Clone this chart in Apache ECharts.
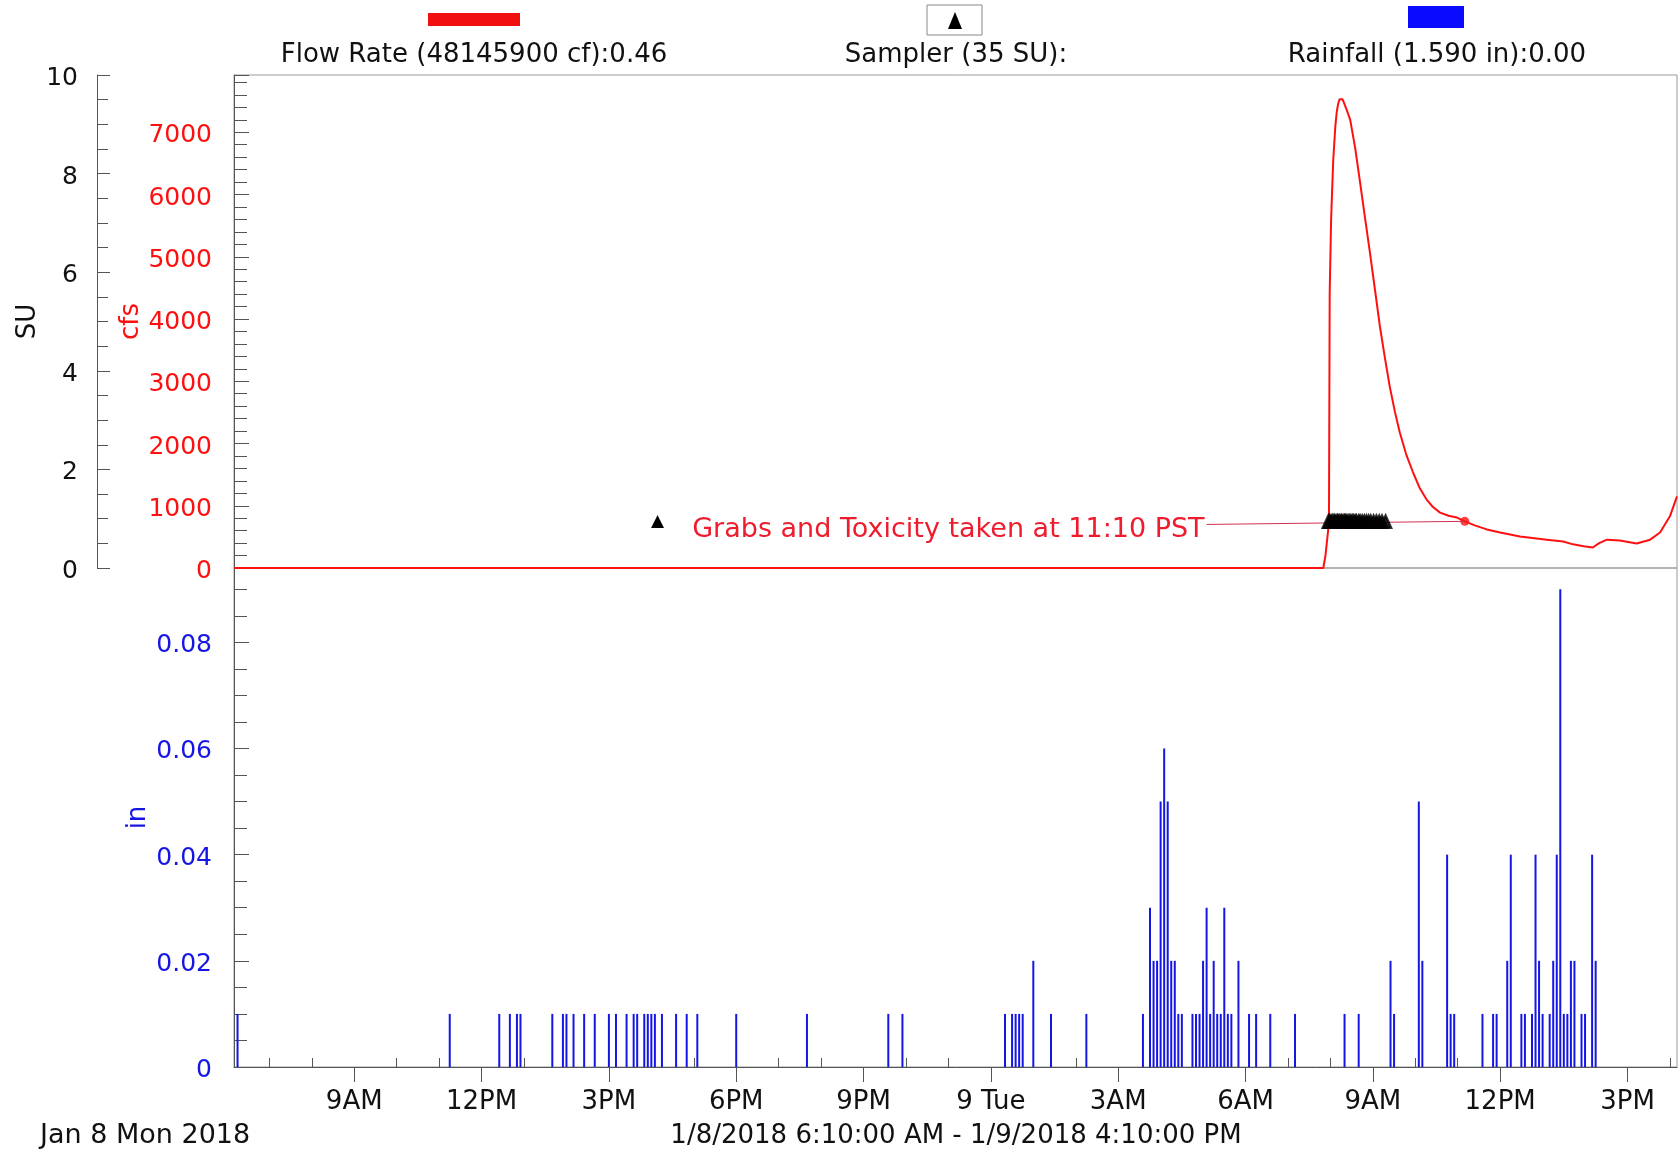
<!DOCTYPE html>
<html><head><meta charset="utf-8">
<script src="https://cdn.jsdelivr.net/npm/echarts@6/dist/echarts.min.js"></script>
<style>html,body{margin:0;padding:0;background:#fff}#c{width:1678px;height:1152px}</style>
</head><body><div id="c"></div>
<script>
// ---------- DATA ----------
const X_MIN = '2018-01-08 06:10';
const X_MAX = '2018-01-09 16:10';

const flowTimes = ['2018-01-08 06:10','2018-01-09 07:50','2018-01-09 07:53','2018-01-09 07:55','2018-01-09 07:58','2018-01-09 07:59','2018-01-09 08:01','2018-01-09 08:04','2018-01-09 08:07','2018-01-09 08:09','2018-01-09 08:11','2018-01-09 08:13','2018-01-09 08:15','2018-01-09 08:17','2018-01-09 08:19','2018-01-09 08:21','2018-01-09 08:24','2018-01-09 08:28','2018-01-09 08:35','2018-01-09 08:42','2018-01-09 08:49','2018-01-09 08:56','2018-01-09 09:03','2018-01-09 09:10','2018-01-09 09:17','2018-01-09 09:24','2018-01-09 09:31','2018-01-09 09:38','2018-01-09 09:47','2018-01-09 09:57','2018-01-09 10:06','2018-01-09 10:16','2018-01-09 10:25','2018-01-09 10:35','2018-01-09 10:47','2018-01-09 10:59','2018-01-09 11:10','2018-01-09 11:25','2018-01-09 11:41','2018-01-09 12:00','2018-01-09 12:28','2018-01-09 13:06','2018-01-09 13:29','2018-01-09 13:43','2018-01-09 13:58','2018-01-09 14:11','2018-01-09 14:20','2018-01-09 14:31','2018-01-09 14:49','2018-01-09 15:13','2018-01-09 15:32','2018-01-09 15:46','2018-01-09 16:00','2018-01-09 16:10'];
const flowCfs = [0,0,200,410,730,4400,5600,6550,7100,7330,7460,7530,7550,7530,7480,7420,7330,7200,6750,6190,5620,5060,4470,3880,3380,2910,2520,2180,1830,1530,1290,1100,980,890,840,810,750,680,620,570,505,455,425,380,350,330,400,455,440,395,455,570,830,1150];

const samplerTimes = ['2018-01-09 07:57','2018-01-09 07:59','2018-01-09 08:01','2018-01-09 08:03','2018-01-09 08:05','2018-01-09 08:06','2018-01-09 08:08','2018-01-09 08:10','2018-01-09 08:11','2018-01-09 08:13','2018-01-09 08:15','2018-01-09 08:16','2018-01-09 08:18','2018-01-09 08:20','2018-01-09 08:21','2018-01-09 08:23','2018-01-09 08:25','2018-01-09 08:27','2018-01-09 08:29','2018-01-09 08:31','2018-01-09 08:33','2018-01-09 08:35','2018-01-09 08:37','2018-01-09 08:40','2018-01-09 08:42','2018-01-09 08:45','2018-01-09 08:48','2018-01-09 08:51','2018-01-09 08:54','2018-01-09 08:57','2018-01-09 09:01','2018-01-09 09:05','2018-01-09 09:09','2018-01-09 09:13','2018-01-09 09:18'];
const samplerSU = [1,1,1,1,1,1,1,1,1,1,1,1,1,1,1,1,1,1,1,1,1,1,1,1,1,1,1,1,1,1,1,1,1,1,1];

const grabTime = '2018-01-09 11:10';
const grabCfs = 750;
const noteStart = ['2018-01-09 05:05', 700];
const noteText = 'Grabs and Toxicity taken at 11:10 PST';

const rainTimes = ['2018-01-08 06:15','2018-01-08 11:15','2018-01-08 12:25','2018-01-08 12:40','2018-01-08 12:50','2018-01-08 12:55','2018-01-08 13:40','2018-01-08 13:55','2018-01-08 14:00','2018-01-08 14:10','2018-01-08 14:25','2018-01-08 14:40','2018-01-08 15:00','2018-01-08 15:10','2018-01-08 15:25','2018-01-08 15:35','2018-01-08 15:40','2018-01-08 15:50','2018-01-08 15:55','2018-01-08 16:00','2018-01-08 16:05','2018-01-08 16:15','2018-01-08 16:35','2018-01-08 16:50','2018-01-08 17:05','2018-01-08 18:00','2018-01-08 19:40','2018-01-08 21:35','2018-01-08 21:55',
'2018-01-09 00:20','2018-01-09 00:30','2018-01-09 00:35','2018-01-09 00:40','2018-01-09 00:45','2018-01-09 01:00','2018-01-09 01:25','2018-01-09 02:15','2018-01-09 03:35','2018-01-09 03:45','2018-01-09 03:50','2018-01-09 03:55','2018-01-09 04:00','2018-01-09 04:05','2018-01-09 04:10','2018-01-09 04:15','2018-01-09 04:20','2018-01-09 04:25','2018-01-09 04:30','2018-01-09 04:45','2018-01-09 04:50','2018-01-09 04:55','2018-01-09 05:00','2018-01-09 05:05','2018-01-09 05:10','2018-01-09 05:15','2018-01-09 05:20','2018-01-09 05:25','2018-01-09 05:30','2018-01-09 05:35','2018-01-09 05:40','2018-01-09 05:50','2018-01-09 06:05','2018-01-09 06:15','2018-01-09 06:35','2018-01-09 07:10','2018-01-09 08:20','2018-01-09 08:40','2018-01-09 09:25','2018-01-09 09:30','2018-01-09 10:05','2018-01-09 10:10','2018-01-09 10:45','2018-01-09 10:50','2018-01-09 10:55','2018-01-09 11:35','2018-01-09 11:50','2018-01-09 11:55','2018-01-09 12:10','2018-01-09 12:15','2018-01-09 12:30','2018-01-09 12:35','2018-01-09 12:45','2018-01-09 12:50','2018-01-09 12:55','2018-01-09 13:00','2018-01-09 13:10','2018-01-09 13:15','2018-01-09 13:20','2018-01-09 13:25','2018-01-09 13:30','2018-01-09 13:35','2018-01-09 13:40','2018-01-09 13:45','2018-01-09 13:55','2018-01-09 14:00','2018-01-09 14:10','2018-01-09 14:15'];
const rainInches = [0.01,0.01,0.01,0.01,0.01,0.01,0.01,0.01,0.01,0.01,0.01,0.01,0.01,0.01,0.01,0.01,0.01,0.01,0.01,0.01,0.01,0.01,0.01,0.01,0.01,0.01,0.01,0.01,0.01,
0.01,0.01,0.01,0.01,0.01,0.02,0.01,0.01,0.01,0.03,0.02,0.02,0.05,0.06,0.05,0.02,0.02,0.01,0.01,0.01,0.01,0.01,0.02,0.03,0.01,0.02,0.01,0.01,0.03,0.01,0.01,0.02,0.01,0.01,0.01,0.01,0.01,0.01,0.02,0.01,0.05,0.02,0.04,0.01,0.01,0.01,0.01,0.01,0.02,0.04,0.01,0.01,0.01,0.04,0.02,0.01,0.01,0.02,0.04,0.09,0.01,0.01,0.02,0.02,0.01,0.01,0.04,0.02];

const majorTickTimes = ['2018-01-08 09:00','2018-01-08 12:00','2018-01-08 15:00','2018-01-08 18:00','2018-01-08 21:00','2018-01-09 00:00','2018-01-09 03:00','2018-01-09 06:00','2018-01-09 09:00','2018-01-09 12:00','2018-01-09 15:00'];
const majorTickLabels = ['9AM','12PM','3PM','6PM','9PM','9 Tue','3AM','6AM','9AM','12PM','3PM'];

const legendFlow = 'Flow Rate (48145900 cf):0.46';
const legendSampler = 'Sampler (35 SU):';
const legendRain = 'Rainfall (1.590 in):0.00';
const dateLabel = 'Jan 8 Mon 2018';
const rangeLabel = '1/8/2018 6:10:00 AM - 1/9/2018 4:10:00 PM';

// ---------- HELPERS ----------
function ts(s){const [d,t]=s.split(' ');const [Y,M,D]=d.split('-').map(Number);const [h,m]=t.split(':').map(Number);return new Date(Y,M-1,D,h,m).getTime();}
const xMin = ts(X_MIN), xMax = ts(X_MAX);
const majorTs = majorTickTimes.map(ts);
const labelMap = {}; majorTs.forEach((v,i)=>labelMap[v]=majorTickLabels[i]);
const minorTs = [];
for (let v = ts('2018-01-08 07:00'); v <= xMax; v += 3600000) { if (majorTs.indexOf(v) < 0) minorTs.push(v); }

const FONT = 'DejaVu Sans';
const RED = '#ff1010', BLUE = '#1515e6', DARK = '#111';
const axisGray = '#555';
const lab = s => s === '' ? '' : '{a|' + s + '}';
const labRich = c => ({a:{fontSize:25, color:c, fontFamily:FONT, padding:[7,0,0,0]}});

const chart = echarts.init(document.getElementById('c'), null, {renderer:'canvas'});
chart.setOption({
  animation:false,
  backgroundColor:'#fff',
  textStyle:{fontFamily:FONT},
  grid:[
    {left:234, top:75, width:1443, height:493, show:true, borderColor:'#9a9a9a', borderWidth:1, backgroundColor:'transparent'},
    {left:234, top:568, width:1443, height:499, show:true, borderColor:'#9a9a9a', borderWidth:1, backgroundColor:'transparent'}
  ],
  xAxis:[
    {type:'value', gridIndex:0, min:xMin, max:xMax, show:false, splitLine:{show:false}},
    {type:'value', gridIndex:1, min:xMin, max:xMax, position:'bottom',
      axisLine:{show:true, lineStyle:{color:axisGray, width:1}},
      axisTick:{show:true, customValues:majorTs, length:15, lineStyle:{color:axisGray}},
      axisLabel:{customValues:majorTs, formatter:v=>labelMap[v]||'', fontSize:26, color:DARK, fontFamily:FONT, margin:22},
      splitLine:{show:false}},
    {type:'value', gridIndex:1, min:xMin, max:xMax, position:'bottom',
      axisLine:{show:false},
      axisTick:{show:true, customValues:minorTs, inside:true, length:9, lineStyle:{color:axisGray}},
      axisLabel:{show:false}, splitLine:{show:false}}
  ],
  yAxis:[
    {type:'value', gridIndex:0, position:'left', offset:137, min:0, max:10, interval:2,
      name:'SU', nameLocation:'middle', nameRotate:90, nameGap:56, nameMoveOverlap:false,
      nameTextStyle:{fontSize:26, color:DARK, fontFamily:FONT},
      axisLine:{show:true, lineStyle:{color:axisGray}},
      axisTick:{show:true, inside:true, length:13, lineStyle:{color:axisGray}},
      minorTick:{show:true, splitNumber:4, length:11, lineStyle:{color:axisGray}},
      axisLabel:{margin:19, formatter:v=>lab(String(v)), rich:labRich(DARK)},
      splitLine:{show:false}},
    {type:'value', gridIndex:0, position:'left', min:0, max:7920, interval:1000,
      name:'cfs', nameLocation:'middle', nameRotate:90, nameGap:90, nameMoveOverlap:false,
      nameTextStyle:{fontSize:26, color:RED, fontFamily:FONT},
      axisLine:{show:true, lineStyle:{color:axisGray}},
      axisTick:{show:true, inside:true, length:15, lineStyle:{color:axisGray}},
      minorTick:{show:true, splitNumber:5, length:13, lineStyle:{color:axisGray}},
      axisLabel:{margin:22, showMaxLabel:false, rich:labRich(RED),
        formatter:v=>lab(v%1000===0?String(v):'')},
      splitLine:{show:false}},
    {type:'value', gridIndex:1, position:'left', min:0, max:0.094, interval:0.02,
      name:'in', nameLocation:'middle', nameRotate:90, nameGap:83, nameMoveOverlap:false,
      nameTextStyle:{fontSize:26, color:BLUE, fontFamily:FONT},
      axisLine:{show:true, lineStyle:{color:axisGray}},
      axisTick:{show:true, inside:true, length:15, lineStyle:{color:axisGray}},
      minorTick:{show:true, splitNumber:4, length:13, lineStyle:{color:axisGray}},
      axisLabel:{margin:22, showMaxLabel:false, rich:labRich(BLUE),
        formatter:v=>{ if (v===0) return lab('0'); const k=v*50; return Math.abs(k-Math.round(k))<1e-6 ? lab(v.toFixed(2)) : ''; }},
      splitLine:{show:false}}
  ],
  series:[
    {name:'Flow', type:'line', xAxisIndex:0, yAxisIndex:1, showSymbol:false, z:3, smooth:false,
      data:flowTimes.map((t,i)=>[ts(t), flowCfs[i]]),
      lineStyle:{color:RED, width:2, join:'round'}, itemStyle:{color:RED},
      markLine:{silent:true, symbol:['none','none'], animation:false,
        lineStyle:{color:'#d2304e', width:1, type:'solid'},
        label:{show:true, position:'start', distance:2, formatter:'{tri|▲}{txt|'+noteText+'}',
          rich:{tri:{fontSize:17, color:'#000', fontFamily:FONT, padding:[0,28,6,0]},
                txt:{fontSize:27, color:'#ee1c2c', fontFamily:FONT, padding:[12,0,0,0]}}},
        data:[[{coord:[ts(noteStart[0]), noteStart[1]]},{coord:[ts(grabTime), grabCfs]}]]}},
    {name:'Grab', type:'scatter', xAxisIndex:0, yAxisIndex:1, symbol:'circle', symbolSize:9, z:4,
      itemStyle:{color:RED}, data:[[ts(grabTime), grabCfs]]},
    {name:'Sampler', type:'scatter', xAxisIndex:0, yAxisIndex:0, symbol:'triangle', symbolSize:[11,12], symbolOffset:[0,3], z:5,
      itemStyle:{color:'#000', borderColor:'#000', borderWidth:2.5}, data:samplerTimes.map((t,i)=>[ts(t), samplerSU[i]])},
    {name:'Rainfall', type:'bar', xAxisIndex:1, yAxisIndex:2, barWidth:2, z:2,
      itemStyle:{color:BLUE}, data:rainTimes.map((t,i)=>[ts(t), rainInches[i]])}
  ],
  graphic:[
    {type:'rect', shape:{x:428, y:13, width:92, height:13}, style:{fill:'#f01010'}},
    {type:'text', x:474, y:55, style:{text:legendFlow, font:'26px "DejaVu Sans"', fill:DARK, align:'center', verticalAlign:'middle'}},
    {type:'rect', shape:{x:927, y:5, width:55, height:30}, style:{fill:'#fff', stroke:'#888', lineWidth:1}},
    {type:'polygon', shape:{points:[[948,29],[962,29],[955,12]]}, style:{fill:'#000'}},
    {type:'text', x:956, y:55, style:{text:legendSampler, font:'26px "DejaVu Sans"', fill:DARK, align:'center', verticalAlign:'middle'}},
    {type:'rect', shape:{x:1408, y:6, width:56, height:22}, style:{fill:'#0a0aff'}},
    {type:'text', x:1437, y:55, style:{text:legendRain, font:'26px "DejaVu Sans"', fill:DARK, align:'center', verticalAlign:'middle'}},
    {type:'text', x:40, y:1136, style:{text:dateLabel, font:'27px "DejaVu Sans"', fill:DARK, align:'left', verticalAlign:'middle'}},
    {type:'text', x:956, y:1136, style:{text:rangeLabel, font:'26px "DejaVu Sans"', fill:DARK, align:'center', verticalAlign:'middle'}}
  ]
});
</script></body></html>
